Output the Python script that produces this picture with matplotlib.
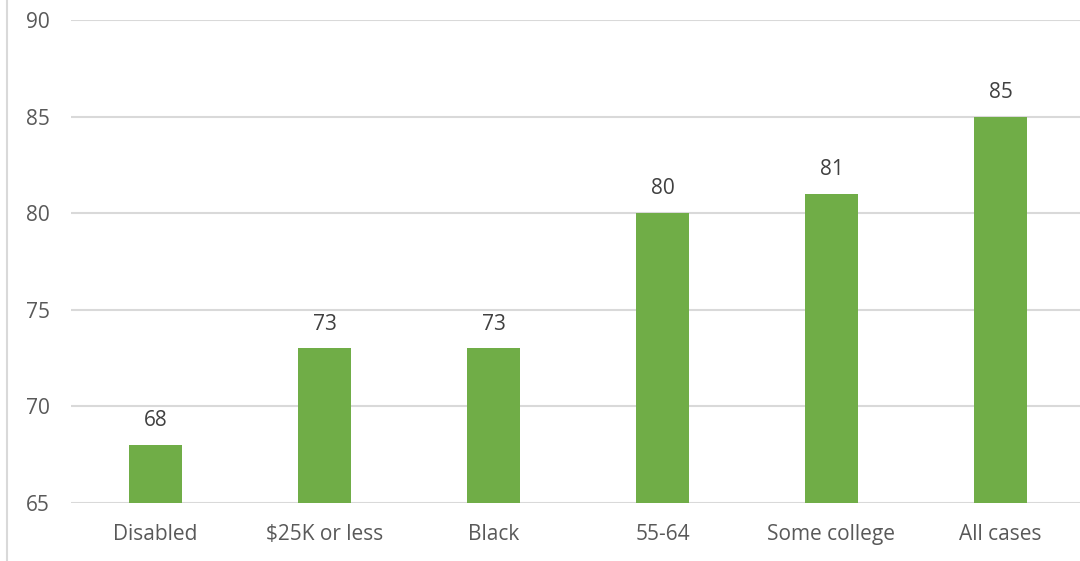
import matplotlib.pyplot as plt
from matplotlib.lines import Line2D

categories = ["Disabled", "$25K or less", "Black", "55-64", "Some college", "All cases"]
values = [68, 73, 73, 80, 81, 85]
y_ticks = [65, 70, 75, 80, 85, 90]

plt.rcParams['font.family'] = ['Open Sans', 'DejaVu Sans']

fig = plt.figure(figsize=(10.8, 5.61), dpi=100)
ax = fig.add_axes([0.0657, 0.1034, 0.9389, 0.8609])

x = range(len(categories))
ax.bar(x, values, width=0.31, bottom=0, color="#70AD47", zorder=3)
ax.set_ylim(65, 90)
ax.set_xlim(-0.5, len(categories) - 0.5)

for xi, v in zip(x, values):
    ax.annotate(str(v), (xi, v), xytext=(0, 10), textcoords="offset points",
                ha="center", va="bottom", fontsize=15, color="#404040")

ax.set_yticks(y_ticks)
ax.set_xticks(list(x))
ax.set_xticklabels(categories)
ax.tick_params(axis="both", length=0, labelsize=15, labelcolor="#595959")
ax.tick_params(axis="y", pad=15)
ax.tick_params(axis="x", pad=15)
ax.grid(axis="y", color="#D9D9D9", linewidth=1.5, zorder=0)
for s in ax.spines.values():
    s.set_visible(False)

# thin border line on the left edge of the chart area
fig.add_artist(Line2D([0.0065, 0.0065], [0, 1], color="#D9D9D9", linewidth=1.5,
                      transform=fig.transFigure))

fig.savefig("out.png", dpi=100)
